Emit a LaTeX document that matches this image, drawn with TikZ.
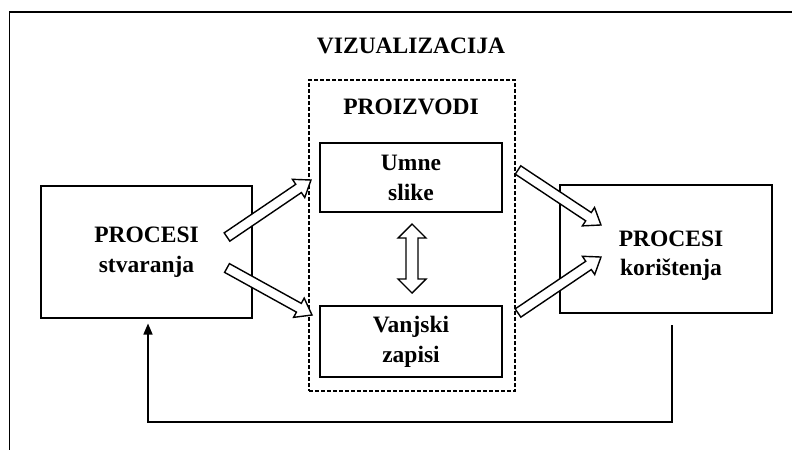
\documentclass[tikz,border=0pt]{standalone}
\usepackage{fontspec}
\setmainfont{Liberation Serif}
\usetikzlibrary{calc,arrows.meta}
\tikzset{
  txt/.style={font=\bfseries\fontsize{23.5}{30}\selectfont},
  box/.style={draw, line width=1.3pt, align=center, inner sep=0pt, txt},
  ibox/.style={box, line width=1.6pt},
  dbox/.style={draw, line width=1.2pt, dash pattern=on 4pt off 2pt, inner sep=0pt},
  lbl/.style={txt, inner sep=0pt},
  blockarr/.style={draw, line width=1.4pt, fill=white, line join=miter},
  frame/.style={line width=1.5pt},
  fb/.style={line width=1.4pt, -{Triangle[length=11pt,width=9pt]}}
}
\newcommand{\barrow}[5]{% tail, tip, half shaft, half head, head length
  \draw[blockarr] let \p1=(#1), \p2=(#2), \n1={atan2(\y2-\y1,\x2-\x1)}, \n2={veclen(\x2-\x1,\y2-\y1)} in
    [shift={(\p1)}, rotate=\n1]
    (0pt,-#3pt) -- ({\n2-#5pt},-#3pt) -- ({\n2-#5pt},-#4pt) -- (\n2,0pt)
    -- ({\n2-#5pt},#4pt) -- ({\n2-#5pt},#3pt) -- (0pt,#3pt) -- cycle;
}
\begin{document}
\begin{tikzpicture}[x=1pt,y=-1pt]
\useasboundingbox (0,0) rectangle (792,450);
% frame
\draw[frame] (792,12) -- (9.5,12) -- (9.5,450);
% title
\node[lbl] (viz) at (411,46) {VIZUALIZACIJA};
% dashed products box
\node[dbox, minimum width=206pt, minimum height=311pt] (proiz) at (412,235.5) {};
\node[lbl] (proizlbl) at (411,107) {PROIZVODI};
% inner boxes
\node[ibox, minimum width=182pt, minimum height=69pt] (umne) at (411,177.5) {Umne\\slike};
\node[ibox, minimum width=182pt, minimum height=71pt] (vanj) at (411,341.5) {Vanjski\\zapisi};
% process boxes
\node[box, minimum width=211pt, minimum height=132pt] (stv) at (146.5,252) {PROCESI\\stvaranja};
\node[box, minimum width=212pt, minimum height=128pt] (korbox) at (666,249) {};
\node[lbl, align=center, font=\bfseries\fontsize{23.5}{29}\selectfont] (kor) at (671,256) {PROCESI\\korištenja};
% block arrow end points
\coordinate (a1t) at (227,237); \coordinate (a1h) at (311,180);
\coordinate (a2t) at (227,268); \coordinate (a2h) at (312,315);
\coordinate (a3t) at (518,170); \coordinate (a3h) at (601,225);
\coordinate (a4t) at (518,313); \coordinate (a4h) at (601,257);
\barrow{a1t}{a1h}{5}{11}{15}
\barrow{a2t}{a2h}{5}{11}{15}
\barrow{a3t}{a3h}{5}{11}{15}
\barrow{a4t}{a4h}{5}{11}{15}
% vertical double block arrow
\coordinate (dt) at (412,224); \coordinate (db) at (412,293);
\draw[blockarr] (dt) -- ++(14,14) -- ++(-8,0) -- ($(db)+(6,-14)$) -- ++(8,0) -- (db)
  -- ++(-14,-14) -- ++(8,0) -- ($(dt)+(-6,14)$) -- ++(-8,0) -- cycle;
% feedback
\coordinate (fbs) at (672,325);
\coordinate (fbe) at (148,323.5);
\draw[fb] (fbs) -- (672,422) -- (148,422) -- (fbe);
\end{tikzpicture}
\end{document}
